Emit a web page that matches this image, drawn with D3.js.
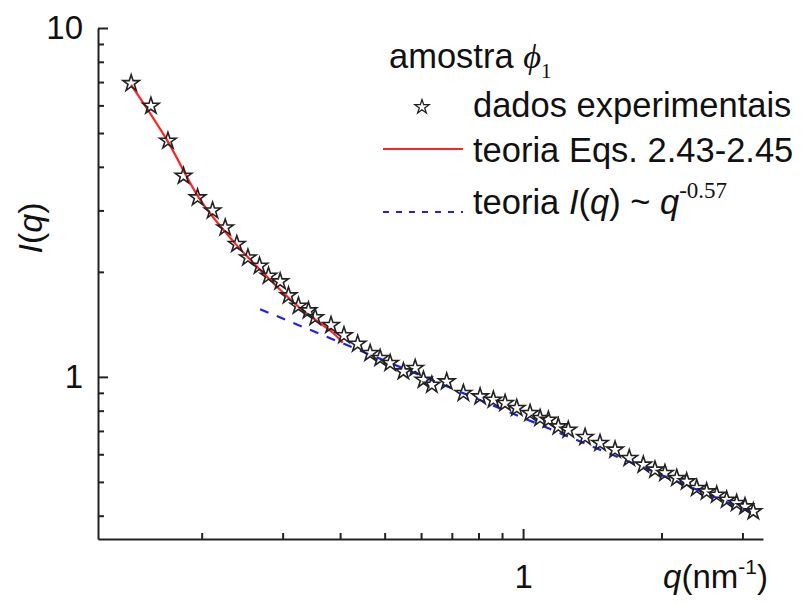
<!DOCTYPE html>
<html>
<head>
<meta charset="utf-8">
<script src="https://cdn.jsdelivr.net/npm/d3@7"></script>
<style>
  body { margin: 0; background: #fff; }
  svg { display: block; font-family: "Liberation Sans", Arial, sans-serif; }
</style>
</head>
<body>
<div id="chart"></div>
<script>
// experimental points (amostra phi_1), q in nm^-1
var qData = [0.1405, 0.1551, 0.1689, 0.1826, 0.1959, 0.2112, 0.2250, 0.2385, 0.2521, 0.2672,
             0.2795, 0.2963, 0.3089, 0.3247, 0.3414, 0.3530, 0.3822, 0.4078, 0.4368, 0.4649,
             0.4888, 0.5139, 0.5492, 0.5825, 0.6072, 0.6332, 0.6822, 0.7416, 0.8064, 0.8619,
             0.9139, 0.9689, 1.0356, 1.089, 1.135, 1.193, 1.254, 1.364, 1.470, 1.585,
             1.702, 1.826, 1.936, 2.035, 2.159, 2.269, 2.386, 2.507, 2.637, 2.772,
             2.914, 3.038, 3.168];
var iData = [6.94, 5.977, 4.746, 3.766, 3.265, 2.996, 2.678, 2.400, 2.197, 2.080,
             1.947, 1.876, 1.710, 1.597, 1.549, 1.481, 1.406, 1.315, 1.243, 1.169,
             1.131, 1.095, 1.036, 1.059, 0.980, 0.9486, 0.9694, 0.8981, 0.8781, 0.8593,
             0.8406, 0.8135, 0.787, 0.7615, 0.7529, 0.7203, 0.7048, 0.6717, 0.6457, 0.6178,
             0.5848, 0.5596, 0.5414, 0.5298, 0.5126, 0.5012, 0.4798, 0.4691, 0.4590, 0.4441,
             0.4345, 0.4250, 0.4112];

// theory Eqs. 2.43-2.45 (red)
var qTheory = [0.1405, 0.1680, 0.1986, 0.2346, 0.2772, 0.3275, 0.3870, 0.4052];
var iTheory = [6.866, 4.777, 3.215, 2.442, 1.938, 1.573, 1.334, 1.252];

// theory I(q) ~ q^-0.57 (blue dashed), end points
var qPower = [0.268, 3.17];
var iPower = [1.563, 0.407];

// ticks
var xMajor = [1];
var xMinor = [0.2, 0.3, 0.4, 0.5, 0.6, 0.7, 0.8, 0.9, 2, 3];
var yMajor = [1, 10];
var yMinor = [0.4, 0.5, 0.6, 0.7, 0.8, 0.9, 2, 3, 4, 5, 6, 7, 8, 9];

var width = 803, height = 604;
var axisColor = '#222';
var serif = '"Liberation Serif", "Times New Roman", serif';

var svg = d3.select('#chart').append('svg')
            .attr('width', width)
            .attr('height', height);

var x = d3.scaleLog().domain([0.119, 3.325]).range([98, 763]);
var y = d3.scaleLog().domain([0.343, 10]).range([539, 28]);

// minor ticks
svg.append('g')
   .attr('class', 'x-minor')
   .attr('transform', 'translate(0,' + y.range()[0] + ')')
   .call(d3.axisBottom(x).tickValues(xMinor).tickSizeInner(-6).tickSizeOuter(0).tickFormat(''))
   .call(function(g) { g.select('.domain').remove(); });

svg.append('g')
   .attr('class', 'y-minor')
   .attr('transform', 'translate(' + x.range()[0] + ',0)')
   .call(d3.axisLeft(y).tickValues(yMinor).tickSizeInner(-6).tickSizeOuter(0).tickFormat(''))
   .call(function(g) { g.select('.domain').remove(); });

// major ticks + domain lines
svg.append('g')
   .attr('class', 'x-axis')
   .attr('transform', 'translate(0,' + y.range()[0] + ')')
   .call(d3.axisBottom(x).tickValues(xMajor).tickSizeInner(-10).tickSizeOuter(0)
           .tickPadding(26).tickFormat(d3.format('d')));

svg.append('g')
   .attr('class', 'y-axis')
   .attr('transform', 'translate(' + x.range()[0] + ',0)')
   .call(d3.axisLeft(y).tickValues(yMajor).tickSizeInner(-10).tickSizeOuter(0)
           .tickPadding(15).tickFormat(d3.format('d')));

svg.selectAll('.x-minor, .y-minor, .x-axis, .y-axis')
   .attr('font-family', null)
   .attr('font-size', 33)
   .selectAll('line, path')
   .attr('stroke', axisColor)
   .attr('stroke-width', 2);

svg.selectAll('.x-axis text, .y-axis text').attr('fill', '#111');

// axis titles
svg.append('text')
   .attr('x', 768)
   .attr('y', 588)
   .attr('text-anchor', 'end')
   .attr('font-size', 33)
   .attr('fill', '#111')
   .call(function(t) {
     t.append('tspan').attr('font-style', 'italic').text('q');
     t.append('tspan').text('(nm');
     t.append('tspan').attr('font-size', 21).attr('dy', -14).text('-1');
     t.append('tspan').attr('dy', 14).text(')');
   });

svg.append('text')
   .attr('transform', 'translate(42,228) rotate(-90)')
   .attr('text-anchor', 'middle')
   .attr('font-size', 34)
   .attr('fill', '#111')
   .call(function(t) {
     t.append('tspan').attr('font-style', 'italic').text('I');
     t.append('tspan').text('(');
     t.append('tspan').attr('font-style', 'italic').text('q');
     t.append('tspan').text(')');
   });

// curves
var points = qData.map(function(q, i) { return {q: q, I: iData[i]}; });
var theory = qTheory.map(function(q, i) { return {q: q, I: iTheory[i]}; });
var power = qPower.map(function(q, i) { return {q: q, I: iPower[i]}; });

var line = d3.line()
             .x(function(d) { return x(d.q); })
             .y(function(d) { return y(d.I); });

svg.append('path')
   .attr('d', line.curve(d3.curveLinear)(power))
   .attr('fill', 'none')
   .attr('stroke', '#1f1fee')
   .attr('stroke-width', 2.2)
   .attr('stroke-dasharray', '9,9');

svg.append('path')
   .attr('d', line.curve(d3.curveCatmullRom)(theory))
   .attr('fill', 'none')
   .attr('stroke', '#ff2424')
   .attr('stroke-width', 2.2);

var star = d3.symbol().type(d3.symbolStar).size(84);

svg.append('g')
   .selectAll('path')
   .data(points)
   .enter().append('path')
   .attr('transform', function(d) { return 'translate(' + x(d.q) + ',' + y(d.I) + ')'; })
   .attr('d', star)
   .attr('fill', 'none')
   .attr('stroke', '#222')
   .attr('stroke-width', 1.6);

// legend
var legend = svg.append('g').attr('font-size', 34.5).attr('fill', '#111');

legend.append('text')
   .attr('x', 389).attr('y', 68)
   .call(function(t) {
     t.append('tspan').text('amostra ');
     t.append('tspan').attr('font-family', serif)
      .attr('font-style', 'italic').text('\u03d5');
     t.append('tspan').attr('font-family', serif)
      .attr('font-size', 21).attr('dy', 10).text('1');
   });

legend.append('path')
   .attr('transform', 'translate(422,107)')
   .attr('d', d3.symbol().type(d3.symbolStar).size(62))
   .attr('fill', 'none')
   .attr('stroke', '#222')
   .attr('stroke-width', 1.3);

legend.append('text').attr('x', 473).attr('y', 117).text('dados experimentais');

legend.append('line')
   .attr('x1', 383).attr('x2', 463).attr('y1', 149).attr('y2', 149)
   .attr('stroke', '#ff2424').attr('stroke-width', 2);

legend.append('text').attr('x', 473).attr('y', 162).text('teoria Eqs. 2.43-2.45');

legend.append('line')
   .attr('x1', 383).attr('x2', 463).attr('y1', 212).attr('y2', 212)
   .attr('stroke', '#1f1fee').attr('stroke-width', 2)
   .attr('stroke-dasharray', '6,7');

legend.append('text')
   .attr('x', 473).attr('y', 214)
   .call(function(t) {
     t.append('tspan').text('teoria ');
     t.append('tspan').attr('font-style', 'italic').text('I');
     t.append('tspan').text('(');
     t.append('tspan').attr('font-style', 'italic').text('q');
     t.append('tspan').text(') ~ ');
     t.append('tspan').attr('font-style', 'italic').text('q');
     t.append('tspan').attr('font-family', serif)
      .attr('font-size', 23).attr('dy', -16).text('-0.57');
   });
</script>
</body>
</html>
